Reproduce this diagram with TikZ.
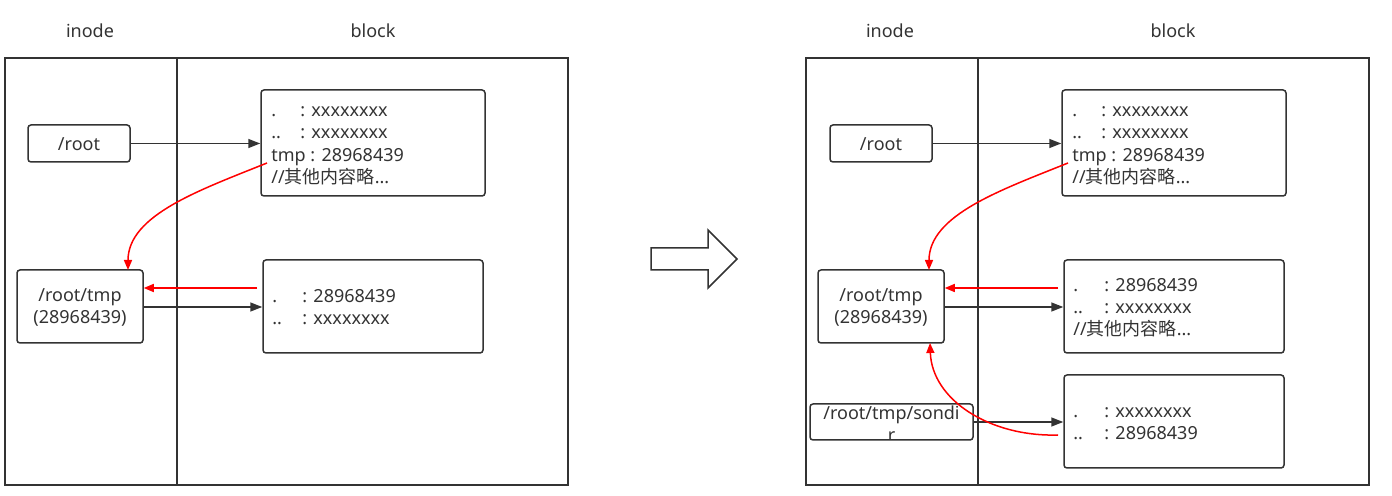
\documentclass[tikz,border=0pt]{standalone}
\usepackage{fontspec}
\setmainfont{Noto Sans}
\newfontfamily\cjk{Noto Sans CJK SC}
\usetikzlibrary{arrows.meta}
\definecolor{ink}{HTML}{333333}
\definecolor{redl}{HTML}{FF0000}
\begin{document}
\begin{tikzpicture}[x=0.5pt,y=-0.5pt,
  font=\fontsize{9}{11}\selectfont,
  frame/.style={draw=ink, line width=0.85pt},
  box/.style={draw=ink, line width=0.75pt, rounded corners=1.5pt, inner sep=0pt},
  txt/.style={anchor=base west, inner sep=0pt, text=ink},
  ctxt/.style={anchor=base, inner sep=0pt, text=ink},
  arr/.style={draw=ink, line width=0.75pt, -{Triangle[length=6pt,width=4.5pt]}},
  redarr/.style={draw=redl, line width=0.75pt, -{Triangle[length=5pt,width=4pt]}},
  bigarrow/.style={draw=ink, line width=0.75pt, line join=miter}
]
\useasboundingbox (0,0) rectangle (1392,496);

% ================= LEFT PANEL =================
\draw[frame] (5,58) rectangle (568,485);
\draw[frame] (177,58) -- (177,485);
\node[ctxt] (Lhi) at (90,38) {inode};
\node[ctxt] (Lhb) at (373,38) {block};

\node[box, minimum width=51pt, minimum height=18.5pt] (Lroot) at (79,143.5) {};
\node[ctxt] (Lroott) at (79,151) {/root};

\node[box, minimum width=112pt, minimum height=53pt] (Lb1) at (373,143) {};
\node[txt] (Lb1a) at (271,117) {.};
\node[txt] (Lb1b) at (300,117) {: xxxxxxxx};
\node[txt] (Lb1c) at (271,139) {..};
\node[txt] (Lb1d) at (300,139) {: xxxxxxxx};
\node[txt] (Lb1e) at (271,162) {tmp : 28968439};
\node[txt] (Lb1f) at (271,184) {//{\cjk 其他内容略}...};

\node[box, minimum width=63pt, minimum height=36.5pt] (Lrt) at (80,306.5) {};
\node[ctxt] (Lrt1) at (80,302) {/root/tmp};
\node[ctxt] (Lrt2) at (80,324) {(28968439)};

\node[box, minimum width=110pt, minimum height=46.5pt] (Lb2) at (373,306.5) {};
\node[txt] (Lb2a) at (272,303) {.};
\node[txt] (Lb2b) at (302,303) {: 28968439};
\node[txt] (Lb2c) at (272,325) {..};
\node[txt] (Lb2d) at (302,325) {: xxxxxxxx};

\draw[arr] (Lroot.east) -- (Lroot.east -| Lb1.west);
\draw[arr] (Lrt.east |- 0,307) -- (Lb2.west |- 0,307);
\coordinate (Lr1s) at (257,288);
\draw[redarr] (Lr1s) -- (Lr1s -| Lrt.east);
\coordinate (Lc1s) at (267,163);
\coordinate (Lc1e) at (128,270);
\draw[redarr] (Lc1s) .. controls (200,190) and (128,215) .. (Lc1e);

% ================= MIDDLE ARROW =================
\draw[bigarrow] (651,248) -- (708,248) -- (708,230) -- (737,259) -- (708,288) -- (708,270) -- (651,270) -- cycle;

% ================= RIGHT PANEL =================
\draw[frame] (806,58) rectangle (1369,485);
\draw[frame] (978,58) -- (978,485);
\node[ctxt] (Rhi) at (890,38) {inode};
\node[ctxt] (Rhb) at (1173,38) {block};

\node[box, minimum width=51pt, minimum height=18.5pt] (Rroot) at (881,143.5) {};
\node[ctxt] (Rroott) at (881,151) {/root};

\node[box, minimum width=112pt, minimum height=53pt] (Rb1) at (1174,143) {};
\node[txt] (Rb1a) at (1072,117) {.};
\node[txt] (Rb1b) at (1101,117) {: xxxxxxxx};
\node[txt] (Rb1c) at (1072,139) {..};
\node[txt] (Rb1d) at (1101,139) {: xxxxxxxx};
\node[txt] (Rb1e) at (1072,162) {tmp : 28968439};
\node[txt] (Rb1f) at (1072,184) {//{\cjk 其他内容略}...};

\node[box, minimum width=63pt, minimum height=36.5pt] (Rrt) at (881,306.5) {};
\node[ctxt] (Rrt1) at (881,302) {/root/tmp};
\node[ctxt] (Rrt2) at (881,324) {(28968439)};

\node[box, minimum width=110pt, minimum height=46.5pt] (Rb2) at (1174,306.5) {};
\node[txt] (Rb2a) at (1073,292) {.};
\node[txt] (Rb2b) at (1104,292) {: 28968439};
\node[txt] (Rb2c) at (1073,314) {..};
\node[txt] (Rb2d) at (1104,314) {: xxxxxxxx};
\node[txt] (Rb2e) at (1073,336) {//{\cjk 其他内容略}...};

\node[box, minimum width=110pt, minimum height=46.5pt] (Rb3) at (1174,421.5) {};
\node[txt] (Rb3a) at (1073,418) {.};
\node[txt] (Rb3b) at (1104,418) {: xxxxxxxx};
\node[txt] (Rb3c) at (1073,440) {..};
\node[txt] (Rb3d) at (1104,440) {: 28968439};

\node[box, minimum width=81.5pt, minimum height=18pt] (Rsd) at (891.5,422) {};
\node[ctxt] (Rsd1) at (891.5,420) {/root/tmp/sondi};
\begin{scope}
  \clip (810,404) rectangle (973,440);
  \node[ctxt] (Rsd2) at (891.5,442) {r};
\end{scope}

\draw[arr] (Rroot.east) -- (Rroot.east -| Rb1.west);
\draw[arr] (Rrt.east |- 0,307) -- (Rb2.west |- 0,307);
\draw[arr] (Rsd.east) -- (Rsd.east -| Rb3.west);
\coordinate (Rr1s) at (1058,288);
\draw[redarr] (Rr1s) -- (Rr1s -| Rrt.east);
\coordinate (Rc1s) at (1068,163);
\coordinate (Rc1e) at (929,270);
\draw[redarr] (Rc1s) .. controls (1001,190) and (929,215) .. (Rc1e);
\coordinate (Rc2s) at (1058,435);
\coordinate (Rc2e) at (930,343);
\draw[redarr] (Rc2s) .. controls (990,437) and (932,400) .. (Rc2e);
\end{tikzpicture}
\end{document}
